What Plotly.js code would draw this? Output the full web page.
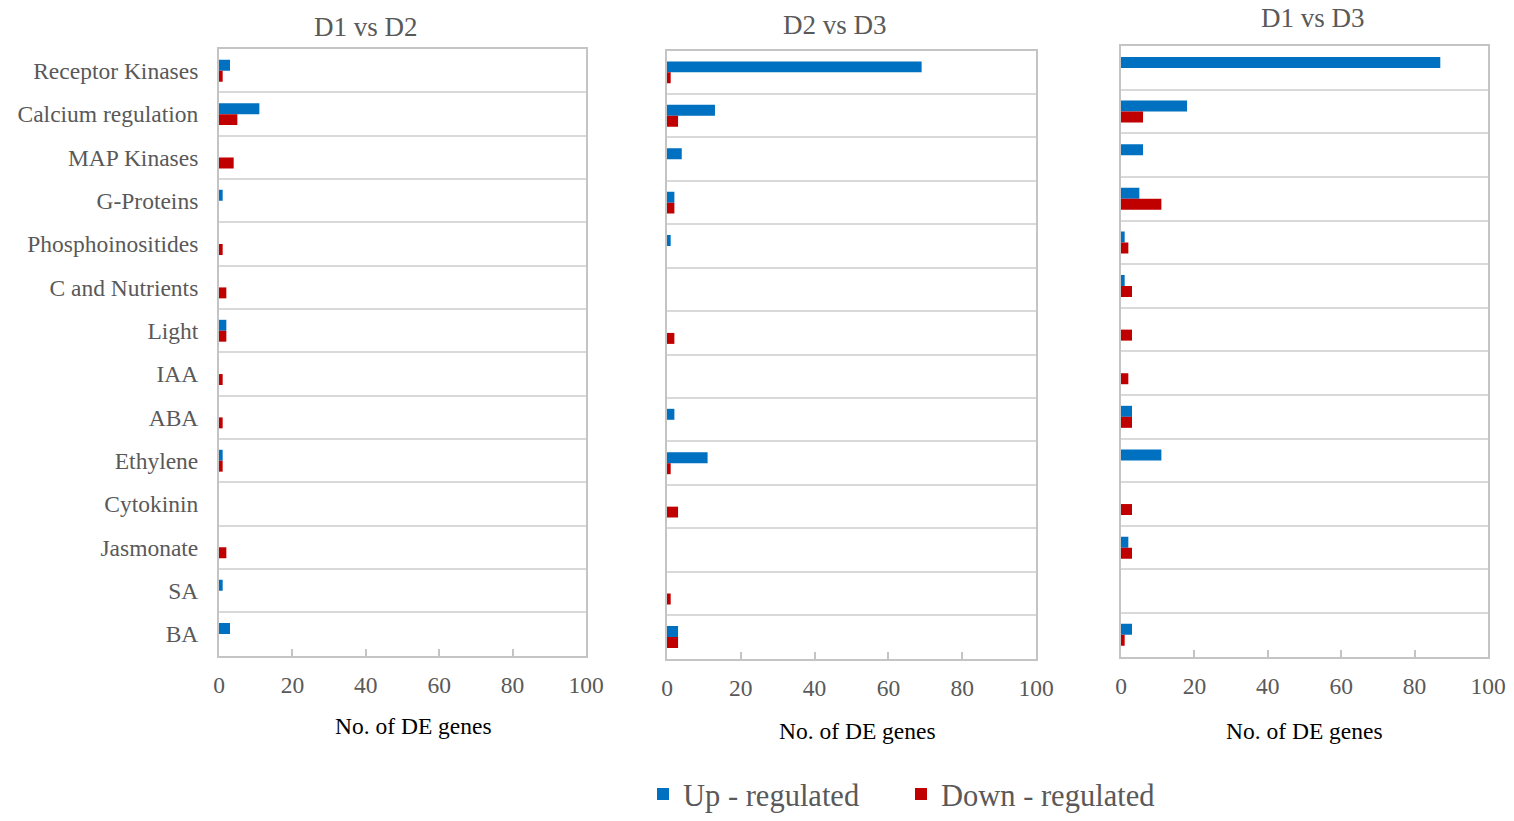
<!DOCTYPE html>
<html>
<head>
<meta charset="utf-8">
<script src="https://cdn.plot.ly/plotly-3.0.1.min.js"></script>
<style>html,body{margin:0;padding:0;background:#fff;overflow:hidden;}#chart{width:1514px;height:821px;}</style>
</head>
<body>
<div id="chart"></div>
<script>
const categories = ["Receptor Kinases","Calcium regulation","MAP Kinases","G-Proteins","Phosphoinositides","C and Nutrients","Light","IAA","ABA","Ethylene","Cytokinin","Jasmonate","SA","BA"];
const panelTitles = ["D1 vs D2","D2 vs D3","D1 vs D3"];
const xTitle = "No. of DE genes";
const seriesNames = ["Up - regulated","Down - regulated"];

const up_D1vsD2   = [3, 11, 0, 1, 0, 0, 2, 0, 0, 1, 0, 0, 1, 3];
const down_D1vsD2 = [1, 5, 4, 0, 1, 2, 2, 1, 1, 1, 0, 2, 0, 0];
const up_D2vsD3   = [69, 13, 4, 2, 1, 0, 0, 0, 2, 11, 0, 0, 0, 3];
const down_D2vsD3 = [1, 3, 0, 2, 0, 0, 2, 0, 0, 1, 3, 0, 1, 3];
const up_D1vsD3   = [87, 18, 6, 5, 1, 1, 0, 0, 3, 11, 0, 2, 0, 3];
const down_D1vsD3 = [0, 6, 0, 11, 2, 3, 3, 2, 3, 0, 3, 3, 0, 1];

const upColor = "#0070C0", downColor = "#C00000";
const FONT = "'Liberation Serif', 'Times New Roman', serif";
const GRAY = "#595959";

const upSets = [up_D1vsD2, up_D2vsD3, up_D1vsD3];
const downSets = [down_D1vsD2, down_D2vsD3, down_D1vsD3];

const traces = [];
for (let i = 0; i < 3; i++) {
  const ax = i === 0 ? "" : String(i + 1);
  traces.push({type:"bar", orientation:"h", name:seriesNames[0], x:upSets[i], y:categories,
    xaxis:"x"+ax, yaxis:"y"+ax, marker:{color:upColor}, showlegend:i===0, legendgroup:"up", hoverinfo:"x+y+name"});
  traces.push({type:"bar", orientation:"h", name:seriesNames[1], x:downSets[i], y:categories,
    xaxis:"x"+ax, yaxis:"y"+ax, marker:{color:downColor}, showlegend:i===0, legendgroup:"down", hoverinfo:"x+y+name"});
}

const W = 1514, H = 821;
const boxes = [ // left, right, top, bottom in px
  [219, 586, 49.5, 660.5],
  [667, 1036, 51, 663.5],
  [1121, 1488, 46.5, 661.5]
];
const titleX = [366, 835, 1313];
const titleY = [27, 25, 18];
const xTitleX = [413, 858, 1304];
const xTitleY = [731, 736, 736];

const layout = {
  width: W, height: H,
  margin:{l:0,r:0,t:0,b:0},
  paper_bgcolor:"#fff", plot_bgcolor:"#fff",
  font:{family:FONT, color:GRAY, size:23.5},
  barmode:"group", bargap:0.495, bargroupgap:0,
  showlegend:true,
  legend:{orientation:"h", x:643/W, xanchor:"left", y:1-800/H, yanchor:"middle",
    font:{family:FONT, size:30.5, color:GRAY}, itemwidth:30, entrywidth:213, entrywidthmode:"pixels", traceorder:"normal"},
  annotations:[]
};

for (let i = 0; i < 3; i++) {
  const ax = i === 0 ? "" : String(i + 1);
  const b = boxes[i];
  layout["xaxis"+ax] = {
    domain:[b[0]/W, b[1]/W], anchor:"y"+ax, range:[0,100], dtick:20, tick0:0,
    showgrid:false, zeroline:false, showline:true, mirror:true, linecolor:"#c4c4c4", linewidth:2,
    ticks:"inside", ticklen:7, tickwidth:1.5, tickcolor:"#c4c4c4", ticklabelstandoff:7,
    tickfont:{family:FONT, size:23.5, color:GRAY}, fixedrange:true
  };
  layout["yaxis"+ax] = {
    domain:[1-b[3]/H, 1-b[2]/H], anchor:"x"+ax, type:"category",
    categoryorder:"array", categoryarray:categories, autorange:"reversed",
    tickson:"boundaries", showgrid:true, gridcolor:"#d9d9d9", gridwidth:2,
    showline:true, mirror:true, linecolor:"#c4c4c4", linewidth:2, ticks:"",
    showticklabels:i===0, ticklabelstandoff:14,
    tickfont:{family:FONT, size:23.5, color:GRAY}, fixedrange:true
  };
  layout.annotations.push({text:panelTitles[i], xref:"paper", yref:"paper", x:titleX[i]/W, y:1-titleY[i]/H,
    xanchor:"center", yanchor:"middle", showarrow:false, font:{family:FONT, size:27, color:GRAY}});
  layout.annotations.push({text:xTitle, xref:"paper", yref:"paper", x:xTitleX[i]/W, y:1-xTitleY[i]/H,
    xanchor:"center", yanchor:"middle", showarrow:false, font:{family:FONT, size:23.5, color:"#000"}});
}

Plotly.newPlot("chart", traces, layout, {displayModeBar:false, responsive:false});
</script>
</body>
</html>
